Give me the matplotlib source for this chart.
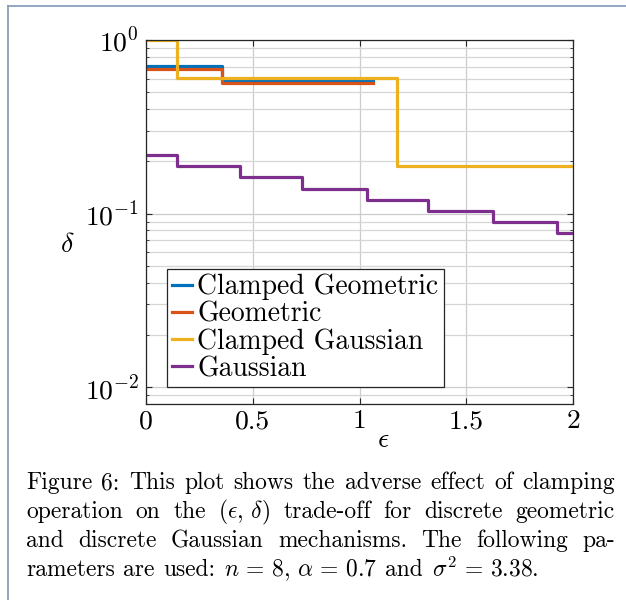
import matplotlib
matplotlib.use("Agg")
import matplotlib.pyplot as plt
import matplotlib.ticker
from matplotlib.lines import Line2D

plt.rcParams['font.family'] = ['cmr10', 'DejaVu Serif']
plt.rcParams['mathtext.fontset'] = 'cm'
plt.rcParams['axes.formatter.use_mathtext'] = True
plt.rcParams['axes.unicode_minus'] = False

# step curves: (epsilon break points, delta levels)
eps_clamped_geo = [0, 0.355, 1.063]
delta_clamped_geo = [0.711, 0.586, 0.586]

eps_geo = [0, 0.355, 1.063]
delta_geo = [0.680, 0.565, 0.565]

eps_clamped_gau = [0, 0.144, 1.174, 2.0]
delta_clamped_gau = [1.0, 0.606, 0.188, 0.188]

eps_gau = [0, 0.144, 0.44, 0.732, 1.034, 1.322, 1.624, 1.924, 2.0]
delta_gau = [0.217, 0.188, 0.162, 0.138, 0.120, 0.103, 0.0893, 0.0769, 0.0769]

series_labels = ["Clamped Geometric", "Geometric", "Clamped Gaussian", "Gaussian"]
series_colors = ["#0072BD", "#D95319", "#EDB120", "#7E2F8E"]

xtick_vals = [0, 0.5, 1, 1.5, 2]
xtick_labels = ["0", "0.5", "1", "1.5", "2"]

caption = [
    "Figure 6: This plot shows the adverse effect of clamping",
    r"operation on the $(\epsilon,\,\delta)$ trade-off for discrete geometric",
    "and discrete Gaussian mechanisms. The following pa-",
    r"rameters are used: $n\,=\,8,\,\alpha\,=\,0.7$ and $\sigma^2\,=\,3.38$.",
]

W, H = 626, 600
fig = plt.figure(figsize=(W / 100, H / 100), dpi=100)
ax = fig.add_axes([146 / W, 1 - 404 / H, 427 / W, 364 / H])

curves = [(eps_clamped_geo, delta_clamped_geo), (eps_geo, delta_geo),
          (eps_clamped_gau, delta_clamped_gau), (eps_gau, delta_gau)]
for (xs, ys), lab, col in zip(curves, series_labels, series_colors):
    ax.plot(xs, ys, color=col, lw=2.3, drawstyle='steps-post', label=lab)

ax.set_yscale('log')
ax.set_xlim(0, 2)
ax.set_ylim(0.008, 1.0)
ax.set_xticks(xtick_vals)
ax.set_xticklabels(xtick_labels)
ax.yaxis.set_major_locator(matplotlib.ticker.LogLocator(base=10, numticks=10))
ax.yaxis.set_minor_locator(matplotlib.ticker.LogLocator(base=10, subs=range(2, 10), numticks=20))
ax.yaxis.set_minor_formatter(matplotlib.ticker.NullFormatter())

ax.grid(True, which='major', color='#cccccc', lw=0.9)
ax.grid(True, which='minor', axis='y', color='#d6d6d6', lw=0.9)
ax.set_axisbelow(True)
for s in ax.spines.values():
    s.set_color('#262626')
    s.set_linewidth(0.9)
ax.tick_params(which='both', direction='in', top=True, right=True,
               color='#262626', labelsize=19.8)
ax.tick_params(which='major', length=4)
ax.tick_params(which='minor', length=2.5)
ax.tick_params(axis='x', pad=4)
ax.tick_params(axis='y', pad=5)

ax.set_xlabel(r'$\epsilon$', fontsize=20)
ax.xaxis.set_label_coords((383 - 146) / 427, (404 - 440) / 364)
ax.xaxis.label.set_va('center')
ax.set_ylabel(r'$\delta$', fontsize=20, rotation=0)
ax.yaxis.set_label_coords((67 - 146) / 427, (404 - 245) / 364)
ax.yaxis.label.set_va('center')
ax.yaxis.label.set_ha('center')

leg = ax.legend(loc='lower left', bbox_to_anchor=((167 - 146) / 427, (404 - 387) / 364),
                borderaxespad=0, fontsize=19.9, handlelength=0.72,
                handletextpad=0.2, labelspacing=0.03, borderpad=0.18,
                fancybox=False, framealpha=1, edgecolor='#262626')
leg.get_frame().set_linewidth(0.9)

# caption, justified like the LaTeX original
renderer = fig.canvas.get_renderer()
x0, x1 = 26, 615
baselines = [489, 518, 547, 576.5]

# size the caption font so the first line fits with near natural spacing
probe = fig.text(0, 0, caption[0], fontsize=10)
natural = probe.get_window_extent(renderer).width
probe.remove()
cap_size = 10 * (x1 - x0 - 12) / natural
space = cap_size * 100 / 72 * 0.36

for i, (line, yb) in enumerate(zip(caption, baselines)):
    words = line.split(" ")
    texts = [fig.text(0, 1 - yb / H, w, fontsize=cap_size, va='baseline', ha='left')
             for w in words]
    widths = [t.get_window_extent(renderer).width for t in texts]
    if i < len(caption) - 1:
        gap = (x1 - x0 - sum(widths)) / (len(words) - 1)
    else:
        gap = space
    x = x0
    for t, w in zip(texts, widths):
        t.set_x(x / W)
        x += w + gap

# page frame visible on the top and left of the crop
frame_col = '#7f97b8'
fig.add_artist(Line2D([7.5 / W, 1], [1 - 5.5 / H] * 2, transform=fig.transFigure,
                      color=frame_col, lw=1.2))
fig.add_artist(Line2D([7.5 / W] * 2, [0, 1 - 5.5 / H], transform=fig.transFigure,
                      color=frame_col, lw=1.2))

fig.savefig("out.png", dpi=100)
